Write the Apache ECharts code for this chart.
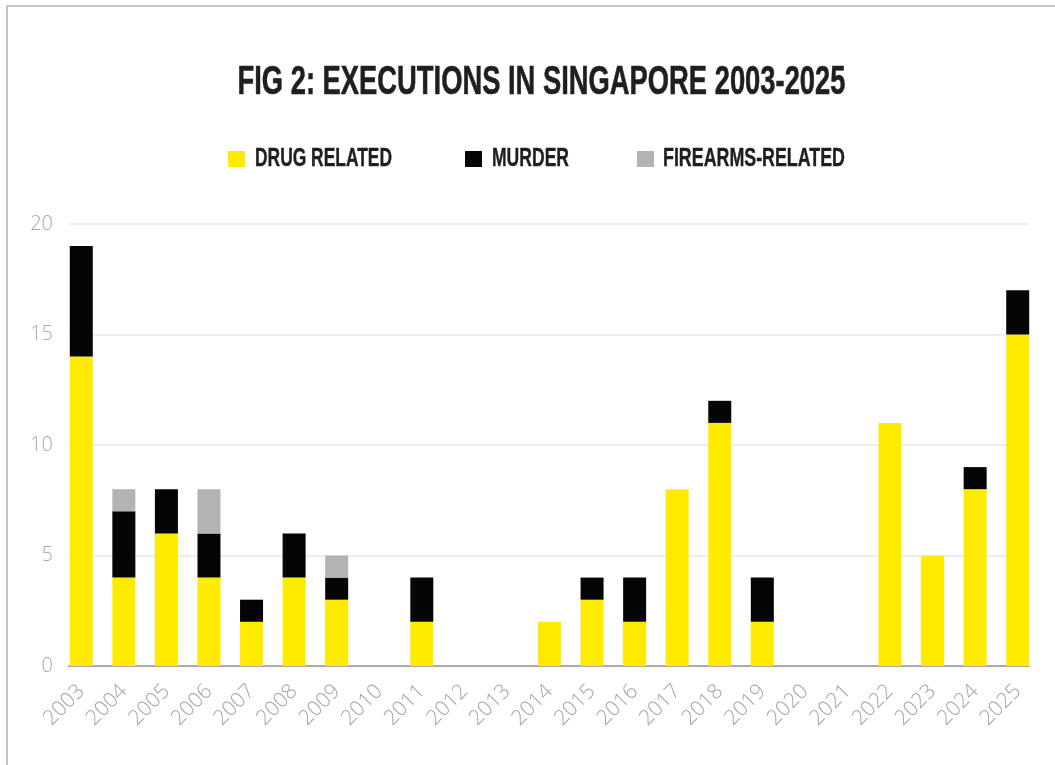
<!DOCTYPE html>
<html>
<head>
<meta charset="utf-8">
<script src="https://cdn.jsdelivr.net/npm/echarts@6/dist/echarts.min.js"></script>
<style>
  html, body { margin: 0; padding: 0; background: #fff; }
  #chart { width: 1055px; height: 765px; }
</style>
</head>
<body>
<div id="chart"></div>
<script>
const years = ['2003', '2004', '2005', '2006', '2007', '2008', '2009', '2010', '2011', '2012', '2013', '2014',
  '2015', '2016', '2017', '2018', '2019', '2020', '2021', '2022', '2023', '2024', '2025']
const drugRelated = [14, 4, 6, 4, 2, 4, 3, 0, 2, 0, 0, 2, 3, 2, 8, 11, 2, 0, 0, 11, 5, 8, 15]
const murder = [5, 3, 2, 2, 1, 2, 1, 0, 2, 0, 0, 0, 1, 2, 0, 1, 2, 0, 0, 0, 0, 1, 2]
const firearms = [0, 1, 0, 2, 0, 0, 1, 0, 0, 0, 0, 0, 0, 0, 0, 0, 0, 0, 0, 0, 0, 0, 0]
const yTicks = { min: 0, max: 20, interval: 5 }

const seriesNames = ['DRUG RELATED', 'MURDER', 'FIREARMS-RELATED']
const colors = ['#FFEB00', '#050505', '#b3b3b3']

const headFont = "'Liberation Sans Narrow', 'Liberation Sans', Arial, sans-serif"
const lightFont = "'Open Sans', Lato, sans-serif"

// measure text so condensed heading text can be squeezed to the right width
const ctx = document.createElement('canvas').getContext('2d')
const fitScale = (text, size, width) => {
  ctx.font = 'bold ' + size + 'px ' + headFont
  return width / ctx.measureText(text).width
}

const title = 'FIG 2: EXECUTIONS IN SINGAPORE 2003-2025'
const titleScale = fitScale(title, 41, 608)

const legendItems = [
  { x: 228, textX: 255, width: 137 },
  { x: 465, textX: 492, width: 77 },
  { x: 637, textX: 663, width: 182 },
]

const graphics = [
  {
    type: 'rect',
    shape: { x: 7, y: 6, width: 1100, height: 800 },
    style: { fill: 'none', stroke: '#c4c4c4', lineWidth: 2 },
    silent: true,
  },
  {
    type: 'text',
    x: 541.5,
    y: 82.5,
    scaleX: titleScale,
    style: {
      text: title,
      fontFamily: headFont,
      fontWeight: 'bold',
      fontSize: 41,
      fill: '#1f1f1f',
      stroke: '#1f1f1f',
      lineWidth: 0.6,
      align: 'center',
      verticalAlign: 'middle',
    },
  },
]

legendItems.forEach((item, i) => {
  graphics.push({
    type: 'rect',
    shape: { x: item.x, y: 151, width: 17, height: 16 },
    style: { fill: colors[i] },
  })
  graphics.push({
    type: 'text',
    x: item.textX,
    y: 159,
    scaleX: fitScale(seriesNames[i], 26, item.width),
    style: {
      text: seriesNames[i],
      fontFamily: headFont,
      fontWeight: 'bold',
      fontSize: 26,
      fill: '#1f1f1f',
      stroke: '#1f1f1f',
      lineWidth: 0.4,
      align: 'left',
      verticalAlign: 'middle',
    },
  })
})

const chart = echarts.init(document.getElementById('chart'))

chart.setOption({
  animation: false,
  backgroundColor: '#fff',
  graphic: graphics,
  grid: [
    { left: 60, right: 16, top: 224, bottom: 99 },
    { left: 69, right: 26, top: 224, bottom: 99 },
  ],
  xAxis: [
    {
      type: 'category',
      gridIndex: 0,
      data: years,
      axisLine: { show: false },
      axisTick: { show: false },
      axisLabel: {
        interval: 0,
        rotate: 45,
        margin: 22,
        color: '#a3a3a3',
        fontFamily: lightFont,
        fontWeight: 300,
        fontSize: 21,
      },
    },
    {
      type: 'value',
      gridIndex: 1,
      min: 0,
      max: 1,
      axisLine: { show: true, lineStyle: { color: '#ababab', width: 2 } },
      axisTick: { show: false },
      axisLabel: { show: false },
      splitLine: { show: false },
    },
  ],
  yAxis: [
    {
      type: 'value',
      gridIndex: 0,
      ...yTicks,
      axisLine: { show: false },
      axisTick: { show: false },
      splitLine: { show: false },
      axisLabel: {
        margin: 7,
        color: '#a8a8a8',
        fontFamily: lightFont,
        fontWeight: 300,
        fontSize: 20,
      },
    },
    {
      type: 'value',
      gridIndex: 1,
      ...yTicks,
      axisLine: { show: false },
      axisTick: { show: false },
      axisLabel: { show: false },
      splitLine: { lineStyle: { color: '#e8e8e8', width: 1.5 } },
    },
  ],
  series: [drugRelated, murder, firearms].map((values, i) => ({
    name: seriesNames[i],
    type: 'bar',
    stack: 'total',
    xAxisIndex: 0,
    yAxisIndex: 0,
    barWidth: 23,
    data: values,
    itemStyle: { color: colors[i] },
  })),
})
</script>
</body>
</html>
